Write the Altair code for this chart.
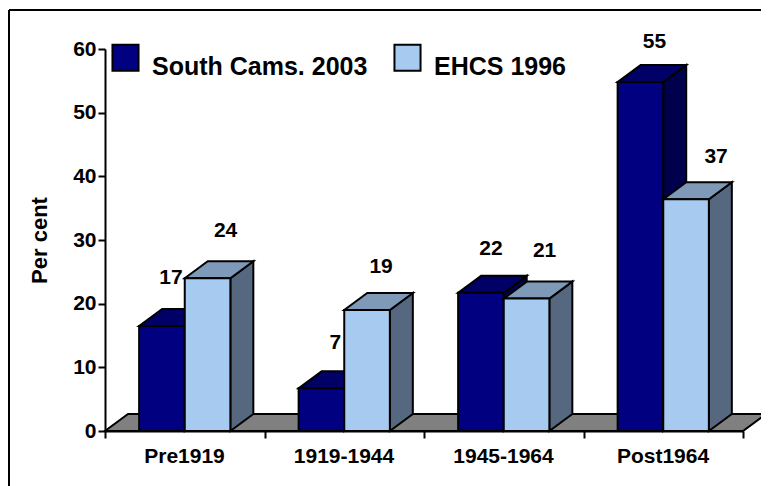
import altair as alt
import pandas as pd

FONT = "Liberation Sans"
categories = ["Pre1919", "1919-1944", "1945-1964", "Post1964"]
series_names = ["South Cams. 2003", "EHCS 1996"]
south_values = [16.5, 6.7, 21.7, 54.8]
ehcs_values = [24.0, 19.0, 20.8, 36.4]
south_labels = ["17", "7", "22", "55"]
ehcs_labels = ["24", "19", "21", "37"]
south_label_shift = [(9, 25), (14, 22), (10, 20), (14, 17)]
ehcs_label_shift = [(18, 24), (14, 20), (18, 24), (30, 19)]

DEPTH_X = 0.144
DEPTH_Y = 2.67
BAR = 0.286
PX_X = 159.5
PX_Y = 382 / 60


def faces(values, offset):
    front, top, side = [], [], []
    for i, v in enumerate(values):
        a = i + 0.5 + offset * BAR - BAR
        b = a + BAR
        front.append(dict(cat=i, a=a, b=b, v=v, zero=0))
        top.append(dict(cat=i, a=a, b=b, y=v))
        top.append(dict(cat=i, a=a + DEPTH_X, b=b + DEPTH_X, y=v + DEPTH_Y))
        side.append(dict(cat=i, x=b, lo=0, hi=v))
        side.append(dict(cat=i, x=b + DEPTH_X, lo=DEPTH_Y, hi=v + DEPTH_Y))
    return pd.DataFrame(front), pd.DataFrame(top), pd.DataFrame(side)


def side_layer(df, color):
    return alt.Chart(df).mark_area(
        orient="vertical", fill=color, stroke="black", strokeWidth=2, opacity=1
    ).encode(
        x=alt.X("x:Q", scale=alt.Scale(domain=[0, 4], nice=False, zero=False)),
        y=alt.Y("lo:Q", scale=alt.Scale(domain=[0, 60], nice=False)),
        y2="hi:Q",
        detail="cat:N",
    )


def top_layer(df, color):
    return alt.Chart(df).mark_area(
        orient="horizontal", fill=color, stroke="black", strokeWidth=2, opacity=1
    ).encode(x="a:Q", x2="b:Q", y="y:Q", detail="cat:N")


def front_layer(df, name):
    return alt.Chart(df.assign(series=name)).mark_rect(
        stroke="black", strokeWidth=2, opacity=1
    ).encode(
        x="a:Q", x2="b:Q", y="zero:Q", y2="v:Q",
        color=alt.Color(
            "series:N",
            scale=alt.Scale(domain=series_names, range=["#000080", "#A6CAF0"]),
            legend=alt.Legend(
                title=None, orient="none", legendX=6, legendY=-9,
                direction="horizontal", symbolType="M-1,-0.77H1V1.23H-1Z", symbolSize=680,
                symbolStrokeColor="black", symbolStrokeWidth=2, symbolOpacity=1,
                labelFont=FONT, labelFontSize=25, labelFontWeight="bold",
                labelColor="black", labelOffset=12, columnPadding=22,
                labelBaseline="top", labelLimit=400,
            ),
        ),
    )


def label_layer(values, labels, shifts, offset):
    rows = [
        dict(x=i + 0.5 + offset * BAR - BAR + BAR / 2 + s[0] / PX_X,
             y=v + DEPTH_Y + s[1] / PX_Y + 1, t=t)
        for i, (v, t, s) in enumerate(zip(values, labels, shifts))
    ]
    return alt.Chart(pd.DataFrame(rows)).mark_text(
        font=FONT, fontSize=21, fontWeight="bold", color="black", baseline="middle"
    ).encode(x="x:Q", y="y:Q", text="t:N")


floor = alt.Chart(pd.DataFrame([
    dict(a=0, b=4, y=0),
    dict(a=DEPTH_X, b=4 + DEPTH_X, y=DEPTH_Y),
])).mark_area(
    orient="horizontal", fill="#808080", stroke="black", strokeWidth=2, opacity=1
).encode(
    x=alt.X(
        "a:Q",
        scale=alt.Scale(domain=[0, 4], nice=False, zero=False),
        axis=alt.Axis(
            values=[0, 1, 2, 3, 4], title=None, grid=False,
            labelExpr="['Pre1919','1919-1944','1945-1964','Post1964',''][datum.value]",
            labelOffset=79, labelAlign="center", labelFont=FONT, labelFontSize=21,
            labelFontWeight="bold", labelColor="black", labelPadding=7,
            tickColor="black", tickWidth=2, tickSize=7, domainColor="black",
            domainWidth=2, labelFlush=False, labelOverlap=False,
        ),
    ),
    x2="b:Q",
    y=alt.Y(
        "y:Q",
        scale=alt.Scale(domain=[0, 60], nice=False),
        axis=alt.Axis(
            values=[0, 10, 20, 30, 40, 50, 60], title="Per cent", grid=False,
            titleFont=FONT, titleFontSize=22, titleFontWeight="bold", titleColor="black",
            titleX=-54, titleY=191,
            labelFont=FONT, labelFontSize=21, labelFontWeight="bold", labelColor="black",
            labelPadding=2, tickColor="black", tickWidth=2, tickSize=7,
            domainColor="black", domainWidth=2, labelFlush=False,
        ),
    ),
)

frame_top = alt.Chart(pd.DataFrame({"k": [0]})).mark_rule(color="black", strokeWidth=2).encode(
    x=alt.value(-96), x2=alt.value(656), y=alt.value(-39)
)
frame_left = alt.Chart(pd.DataFrame({"k": [0]})).mark_rule(color="black", strokeWidth=2).encode(
    x=alt.value(-96), y=alt.value(-39), y2=alt.value(437)
)

sf, st, ss = faces(south_values, 0)
ef, et, es = faces(ehcs_values, 1)

chart = alt.layer(
    frame_top, frame_left, floor,
    side_layer(ss, "#00004D"), top_layer(st, "#000066"), front_layer(sf, series_names[0]),
    side_layer(es, "#556880"), top_layer(et, "#7F9AB8"), front_layer(ef, series_names[1]),
    label_layer(south_values, south_labels, south_label_shift, 0),
    label_layer(ehcs_values, ehcs_labels, ehcs_label_shift, 1),
).properties(
    width=638, height=382,
    autosize=alt.AutoSizeParams(type="none"),
    padding={"left": 97, "top": 41, "right": 18, "bottom": 55},
).configure_view(stroke=None)

chart.save("out.html", embed_options={"renderer": "svg", "actions": False})
